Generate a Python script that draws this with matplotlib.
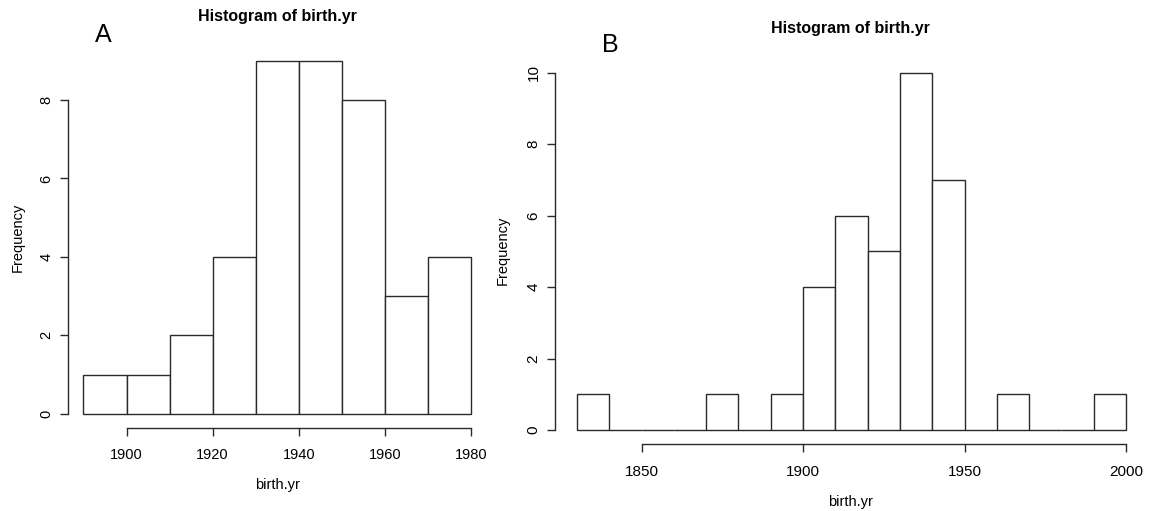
import matplotlib
matplotlib.use("Agg")
import matplotlib.pyplot as plt

# Panel A data
bins_a_left = [1890, 1900, 1910, 1920, 1930, 1940, 1950, 1960, 1970]
counts_a = [1, 1, 2, 4, 9, 9, 8, 3, 4]
xticks_a = [1900, 1920, 1940, 1960, 1980]
yticks_a = [0, 2, 4, 6, 8]

# Panel B data
bins_b_left = [1830, 1840, 1850, 1860, 1870, 1880, 1890, 1900, 1910, 1920,
               1930, 1940, 1950, 1960, 1970, 1980, 1990]
counts_b = [1, 0, 0, 0, 1, 0, 1, 4, 6, 5, 10, 7, 0, 1, 0, 0, 1]
xticks_b = [1850, 1900, 1950, 2000]
yticks_b = [0, 2, 4, 6, 8, 10]

W, H = 1149, 511
fig = plt.figure(figsize=(W / 100, H / 100), dpi=100)
plt.rcParams['font.family'] = ['Liberation Sans', 'DejaVu Sans']

EDGE = '#2a2a2a'


def px_axes(l, t, r, b):
    return fig.add_axes([l / W, 1 - b / H, (r - l) / W, (b - t) / H])


def style(ax, xlim, ylim, xticks, yticks, size, xpad):
    ax.set_xlim(*xlim)
    ax.set_ylim(*ylim)
    for s in ['top', 'right']:
        ax.spines[s].set_visible(False)
    ax.spines['left'].set_bounds(yticks[0], yticks[-1])
    ax.spines['bottom'].set_bounds(xticks[0], xticks[-1])
    for s in ['left', 'bottom']:
        ax.spines[s].set_color(EDGE)
        ax.spines[s].set_linewidth(1)
    ax.set_xticks(xticks)
    ax.set_yticks(yticks)
    ax.tick_params(axis='both', length=5.5, width=1, color=EDGE, labelsize=size)
    ax.tick_params(axis='x', pad=xpad)
    ax.tick_params(axis='y', pad=5)
    for lab in ax.get_yticklabels():
        lab.set_rotation(90)
        lab.set_va('center')
    ax.patch.set_alpha(0)


# Panel A
axA = px_axes(68, 46.6, 486.5, 428)
axA.bar(bins_a_left, counts_a, width=10, align='edge', color='white',
        edgecolor=EDGE, linewidth=1)
style(axA, (1886.4, 1983.6), (-0.36, 9.36), xticks_a, yticks_a, 10.5, 9)

# Panel B
axB = px_axes(555, 58.4, 1148, 444.3)
axB.bar(bins_b_left, counts_b, width=10, align='edge', color='white',
        edgecolor=EDGE, linewidth=1)
style(axB, (1823.2, 2006.8), (-0.4, 10.4), xticks_b, yticks_b, 11, 9.5)


def ftext(x, y, s, **kw):
    fig.text(x / W, 1 - y / H, s, ha='center', va='center', **kw)


ftext(277, 17, 'Histogram of birth.yr', fontsize=11.5, fontweight='bold')
ftext(850, 28, 'Histogram of birth.yr', fontsize=11.5, fontweight='bold')
ftext(277, 485, 'birth.yr', fontsize=10.5)
ftext(850, 502, 'birth.yr', fontsize=10.5)
ftext(18, 237, 'Frequency', fontsize=10.5, rotation=90)
ftext(503, 250, 'Frequency', fontsize=10.5, rotation=90)
ftext(103, 35, 'A', fontsize=18)
ftext(610, 45, 'B', fontsize=18)

fig.savefig('out.png', dpi=100, facecolor='white')
